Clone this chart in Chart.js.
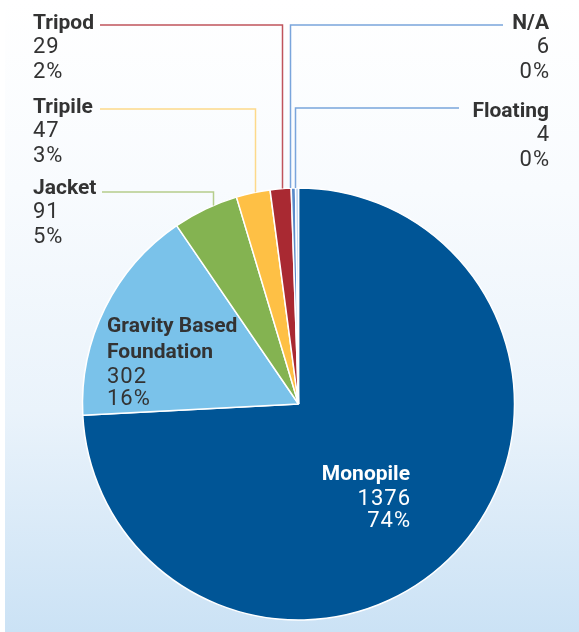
<!DOCTYPE html>
<html>
<head>
<meta charset="utf-8">
<script src="https://cdn.jsdelivr.net/npm/chart.js@4/dist/chart.umd.min.js"></script>
<style>
html,body{margin:0;padding:0;background:#fff;}
#wrap{position:relative;width:579px;height:632px;}
#bg{position:absolute;left:5px;top:0;width:574px;height:632px;
background:linear-gradient(to bottom,#ffffff 0%,#f8fbfe 30%,#eaf3fb 65%,#cbe2f5 100%);}
canvas{position:absolute;left:0;top:0;}
</style>
</head>
<body>
<div id="wrap"><div id="bg"></div><canvas id="c" width="579" height="632"></canvas></div>
<script>
const categories = ["Monopile","Gravity Based Foundation","Jacket","Tripile","Tripod","N/A","Floating"];
const values = [1376, 302, 91, 47, 29, 6, 4];
const percents = ["74%","16%","5%","3%","2%","0%","0%"];
const colors = ["#005596","#7ac2ea","#84b351","#fec045","#a92932","#5b8bc9","#b3cdee"];
const lineColors = [null,null,"#b5cd8c","#fdd98b","#c0545c","#7aa5dc","#7aa5dc"];

// label layout (positions of text and leader-line elbows)
const labelLayout = {
  0: {x:410, y:475, align:"right", color:"#ffffff", inside:true, gaps:[24,22]},
  1: {x:107, y:327, align:"left", color:"#333333", inside:true, lines:["Gravity Based","Foundation"], gaps:[26,24,22]},
  2: {x:33, y:189, align:"left", color:"#333333", lineY:192, lineEnd:102, frac:0.63, dx:0},
  3: {x:33, y:108, align:"left", color:"#333333", lineY:109, lineEnd:100, frac:0.57, dx:0},
  4: {x:33, y:24, align:"left", color:"#333333", lineY:25, lineEnd:100, frac:0.58, dx:0},
  5: {x:549, y:24, align:"right", color:"#333333", lineY:25, lineEnd:503, frac:0.5, dx:-3},
  6: {x:549, y:112, align:"right", color:"#333333", lineY:108, lineEnd:459, frac:0.5, dx:-2}
};

const labelPlugin = {
  id: "labels",
  afterDatasetsDraw(chart) {
    const ctx = chart.ctx;
    const meta = chart.getDatasetMeta(0);
    ctx.save();
    meta.data.forEach((arc, i) => {
      const L = labelLayout[i];
      const p = arc.getProps(["x","y","startAngle","endAngle","outerRadius"], true);
      if (!L.inside) {
        const a = p.startAngle + (p.endAngle - p.startAngle) * L.frac;
        const ax = p.x + Math.cos(a) * p.outerRadius + L.dx;
        const ay = p.y + Math.sin(a) * p.outerRadius;
        ctx.strokeStyle = lineColors[i];
        ctx.lineWidth = 1.5;
        ctx.beginPath();
        ctx.moveTo(Math.round(ax)+0.5, ay);
        ctx.lineTo(Math.round(ax)+0.5, L.lineY);
        ctx.lineTo(L.lineEnd, L.lineY);
        ctx.stroke();
      }
      const titleLines = L.lines || [categories[i]];
      const gaps = L.gaps || [23, 25];
      ctx.fillStyle = L.color;
      ctx.textAlign = L.align;
      ctx.textBaseline = "middle";
      let y = L.y, g = 0;
      ctx.font = "bold 21px Roboto, 'Liberation Sans', sans-serif";
      ctx.letterSpacing = "0px";
      titleLines.forEach(t => { ctx.fillText(t, L.x, y); y += gaps[g++]; });
      ctx.font = "22px Roboto, 'Liberation Sans', sans-serif";
      ctx.letterSpacing = "1px";
      const rx = L.align === "right" ? L.x + 1 : L.x;
      ctx.fillText(String(values[i]), rx, y); y += gaps[g++];
      ctx.fillText(percents[i], rx, y);
    });
    ctx.restore();
  }
};

new Chart(document.getElementById("c"), {
  type: "pie",
  data: {
    labels: categories,
    datasets: [{
      data: values,
      backgroundColor: colors,
      borderColor: "#ffffff",
      borderWidth: 1.5
    }]
  },
  options: {
    responsive: false,
    animation: false,
    radius: 216,
    layout: { padding: { left: 18, right: 0, top: 176, bottom: 0 } },
    plugins: { legend: { display: false }, tooltip: { enabled: false } }
  },
  plugins: [labelPlugin]
});
</script>
</body>
</html>
